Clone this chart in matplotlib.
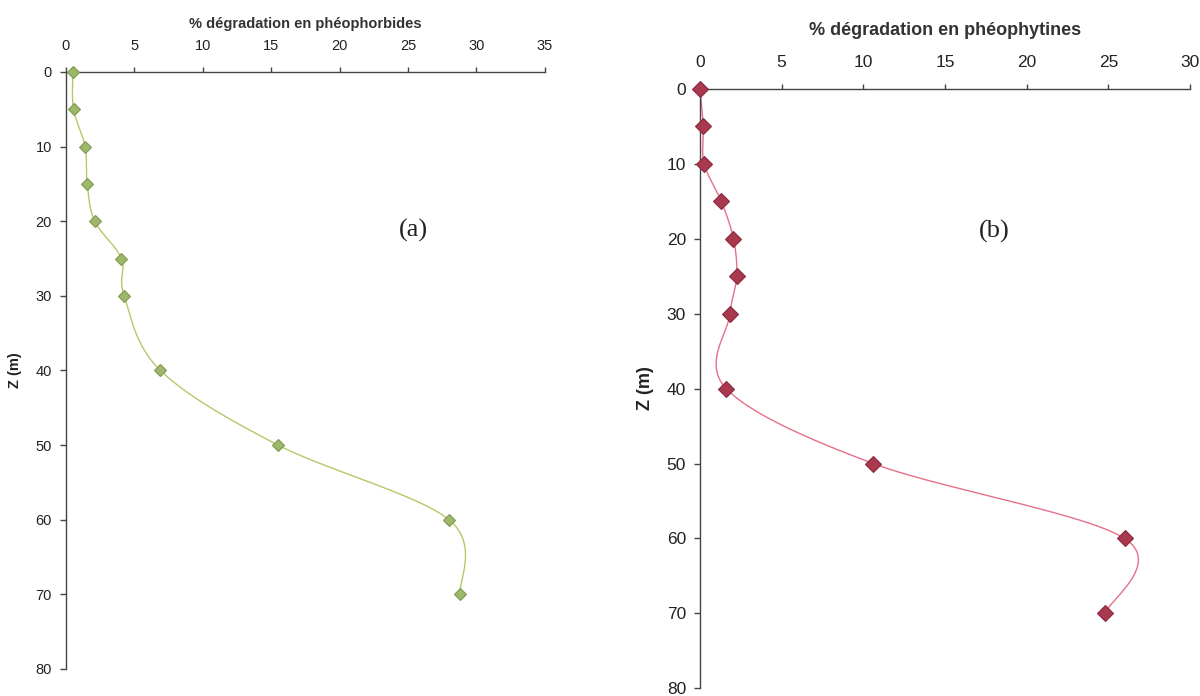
import numpy as np
import matplotlib
matplotlib.use("Agg")
import matplotlib.pyplot as plt

plt.rcParams['font.family'] = ['Liberation Sans', 'DejaVu Sans']

# Depth profiles (m) and degradation percentages
depth = [0, 5, 10, 15, 20, 25, 30, 40, 50, 60, 70]
pheophorbides = [0.5, 0.55, 1.4, 1.55, 2.1, 4.05, 4.25, 6.9, 15.5, 28.0, 28.8]
pheophytines = [0.0, 0.2, 0.25, 1.3, 2.05, 2.25, 1.85, 1.6, 10.6, 26.0, 24.8]

xticks_a = [0, 5, 10, 15, 20, 25, 30, 35]
xticks_b = [0, 5, 10, 15, 20, 25, 30]
zticks = [0, 10, 20, 30, 40, 50, 60, 70, 80]


def smooth(x, y, n=30):
    """Spreadsheet-style smoothed line (Catmull-Rom Bezier between points)."""
    p = np.column_stack([x, y]).astype(float)
    ext = np.vstack([p[0], p, p[-1]])
    out = []
    t = np.linspace(0, 1, n)[:, None]
    for i in range(1, len(ext) - 2):
        p0, p1, p2, p3 = ext[i - 1], ext[i], ext[i + 1], ext[i + 2]
        c1 = p1 + (p2 - p0) / 6.0
        c2 = p2 - (p3 - p1) / 6.0
        seg = ((1 - t) ** 3) * p1 + 3 * ((1 - t) ** 2) * t * c1 \
            + 3 * (1 - t) * t ** 2 * c2 + t ** 3 * p2
        out.append(seg if i == 1 else seg[1:])
    s = np.vstack(out)
    return s[:, 0], s[:, 1]


def style_axis(ax, xticks, xmax, title, fs_tick, fs_title, fs_z, tpad):
    ax.set_xlim(0, xmax)
    ax.set_ylim(80, 0)
    ax.xaxis.tick_top()
    ax.xaxis.set_label_position('top')
    ax.set_xticks(xticks)
    ax.set_yticks(zticks)
    for s in ('right', 'bottom'):
        ax.spines[s].set_visible(False)
    for s in ('left', 'top'):
        ax.spines[s].set_color('#444444')
        ax.spines[s].set_linewidth(1.0)
    ax.tick_params(axis='x', direction='out', length=3.5, width=1.0,
                   colors='#444444', labelcolor='#222222',
                   labelsize=fs_tick, pad=10)
    ax.tick_params(axis='y', direction='out', length=4, width=1.0,
                   colors='#444444', labelcolor='#222222',
                   labelsize=fs_tick, pad=6)
    ax.set_xlabel(title, fontsize=fs_title, fontweight='bold',
                  color='#333333', labelpad=tpad)
    ax.set_ylabel('Z (m)', fontsize=fs_z, fontweight='bold',
                  color='#222222')
    ax.set_facecolor('white')


fig = plt.figure(figsize=(12, 6.96), dpi=100)

ax_a = fig.add_axes([0.055, 0.0388, 0.399, 0.8578])
ax_b = fig.add_axes([0.5833, 0.0108, 0.4084, 0.862])

# (a) phéophorbides
sx, sy = smooth(pheophorbides, depth)
ax_a.plot(sx, sy, color='#b5c86a', lw=1.0, zorder=2)
ax_a.plot(pheophorbides, depth, ls='none', marker='D', ms=6,
          mfc='#9db86a', mec='#7f9a50', mew=0.8, zorder=3, clip_on=False)
style_axis(ax_a, xticks_a, 35, '% dégradation en phéophorbides',
           10.5, 10.5, 10.5, 8)
ax_a.yaxis.set_label_coords(-0.092, 0.5)
ax_a.text(25.4, 21.2, '(a)', fontsize=19, family='Liberation Serif',
          ha='center', va='center', color='#222222')

# (b) phéophytines
sx, sy = smooth(pheophytines, depth)
ax_b.plot(sx, sy, color='#e5708a', lw=1.0, zorder=2)
ax_b.plot(pheophytines, depth, ls='none', marker='D', ms=8,
          mfc='#a8394f', mec='#8c2a3e', mew=0.8, zorder=3, clip_on=False)
style_axis(ax_b, xticks_b, 30, '% dégradation en phéophytines',
           12.5, 13, 13, 14)
ax_b.yaxis.set_label_coords(-0.094, 0.5)
ax_b.text(18.0, 19.0, '(b)', fontsize=19, family='Liberation Serif',
          ha='center', va='center', color='#222222')

fig.savefig('out.png', dpi=100, facecolor='white')
